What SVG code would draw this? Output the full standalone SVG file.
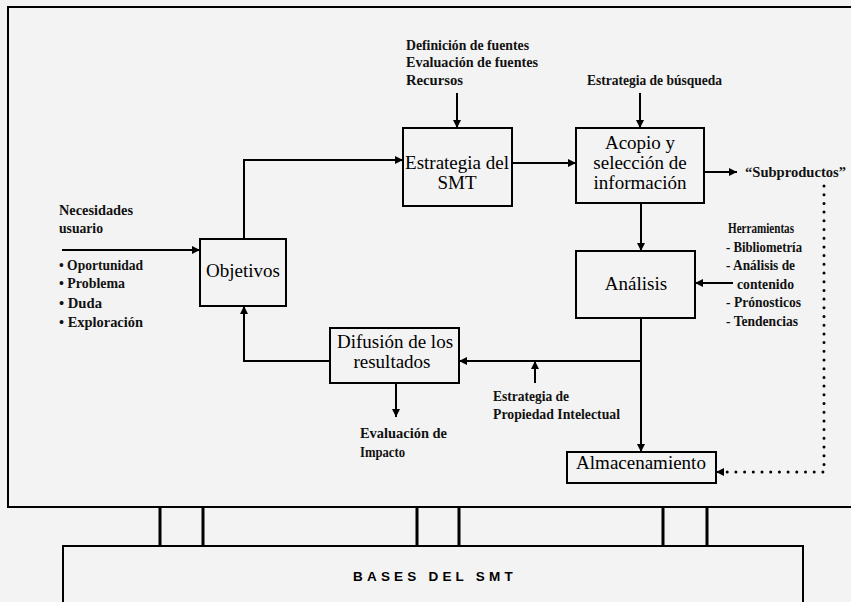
<svg xmlns="http://www.w3.org/2000/svg" width="851" height="602" viewBox="0 0 851 602">
<defs>
<marker id="ah" viewBox="0 0 10 10" refX="10" refY="5" markerWidth="9" markerHeight="8" markerUnits="userSpaceOnUse" orient="auto">
<path d="M0,0 L10,5 L0,10 z" fill="#000"/>
</marker>
</defs>
<style>
.box{fill:none;stroke:#000;stroke-width:2}
.node{font-family:"Liberation Serif",serif;font-size:19px;fill:#000;text-anchor:middle}
.lbl{font-family:"Liberation Serif",serif;font-weight:bold;font-size:15.5px;fill:#111}
.c{fill:none;stroke:#000;stroke-width:2}
.post{stroke:#000;stroke-width:3}
.frame{fill:none;stroke:#000;stroke-width:2}
</style>
<rect x="0" y="0" width="851" height="602" fill="#f3f3f3"/>
<g id="frame">
<path class="frame" d="M851,7 H8 V507 H851"/>
<path class="post" d="M160,507 V547 M203,507 V547 M417,507 V547 M459,507 V547 M663,507 V547 M707,507 V547"/>
<path class="frame" d="M63,604 V546 H803 V604"/>
<text x="353" y="581" font-family="'Liberation Sans',sans-serif" font-weight="bold" font-size="13.5" letter-spacing="4.2" fill="#000">BASES DEL SMT</text>
</g>
<g id="connectors">
<path class="c" d="M62,250 H200" marker-end="url(#ah)"/>
<path class="c" d="M244,239 V160 H403" marker-end="url(#ah)"/>
<path class="c" d="M457,93 V128" marker-end="url(#ah)"/>
<path class="c" d="M512,163 H576" marker-end="url(#ah)"/>
<path class="c" d="M640,93 V128" marker-end="url(#ah)"/>
<path class="c" d="M704,172 H737" marker-end="url(#ah)"/>
<path class="c" d="M641,203 V251" marker-end="url(#ah)"/>
<path class="c" d="M733,283 H695" marker-end="url(#ah)"/>
<path class="c" d="M641,318 V452" marker-end="url(#ah)"/>
<path class="c" d="M641,361 H459" marker-end="url(#ah)"/>
<path class="c" d="M535,383 V361" marker-end="url(#ah)"/>
<path class="c" d="M330,361 H244 V306" marker-end="url(#ah)"/>
<path class="c" d="M396,383 V417" marker-end="url(#ah)"/>
<path d="M824,186 V472 H724" fill="none" stroke="#000" stroke-width="3" stroke-linecap="round" stroke-dasharray="0 8.7"/>
<path class="c" d="M724,472 H716" marker-end="url(#ah)"/>
</g>
<g id="objetivos">
<rect class="box" x="200" y="239" width="86" height="67"/>
<text class="node" x="243" y="277">Objetivos</text>
</g>
<g id="estrategia">
<rect class="box" x="403" y="128" width="109" height="78"/>
<text class="node" x="457" y="169">Estrategia del</text>
<text class="node" x="457" y="189">SMT</text>
</g>
<g id="acopio">
<rect class="box" x="576" y="128" width="128" height="75"/>
<text class="node" x="640" y="149">Acopio y</text>
<text class="node" x="640" y="169">selección de</text>
<text class="node" x="640" y="189">información</text>
</g>
<g id="analisis">
<rect class="box" x="576" y="251" width="119" height="67"/>
<text class="node" x="636" y="290">Análisis</text>
</g>
<g id="difusion">
<rect class="box" x="330" y="328" width="129" height="55"/>
<text class="node" x="395" y="348">Difusión de los</text>
<text class="node" x="392" y="368">resultados</text>
</g>
<g id="almacenamiento">
<rect class="box" x="567" y="452" width="149" height="31"/>
<text class="node" x="641" y="469">Almacenamiento</text>
</g>
<g id="labels">
<text class="lbl" x="406" y="50" textLength="123" lengthAdjust="spacingAndGlyphs">Definición de fuentes</text>
<text class="lbl" x="406" y="67" textLength="132" lengthAdjust="spacingAndGlyphs">Evaluación de fuentes</text>
<text class="lbl" x="406" y="85" textLength="57" lengthAdjust="spacingAndGlyphs">Recursos</text>
<text class="lbl" x="587" y="85" textLength="135" lengthAdjust="spacingAndGlyphs">Estrategia de búsqueda</text>
<text class="lbl" x="745" y="177" textLength="101" lengthAdjust="spacingAndGlyphs">“Subproductos”</text>
<text class="lbl" x="728" y="233" textLength="66" lengthAdjust="spacingAndGlyphs">Herramientas</text>
<text class="lbl" x="726" y="252" textLength="76" lengthAdjust="spacingAndGlyphs">- Bibliometría</text>
<text class="lbl" x="726" y="270" textLength="69" lengthAdjust="spacingAndGlyphs">- Análisis de</text>
<text class="lbl" x="737" y="289" textLength="57" lengthAdjust="spacingAndGlyphs">contenido</text>
<text class="lbl" x="726" y="307" textLength="75" lengthAdjust="spacingAndGlyphs">- Prónosticos</text>
<text class="lbl" x="726" y="326" textLength="72" lengthAdjust="spacingAndGlyphs">- Tendencias</text>
<text class="lbl" x="59" y="215" textLength="74" lengthAdjust="spacingAndGlyphs">Necesidades</text>
<text class="lbl" x="59" y="233" textLength="44" lengthAdjust="spacingAndGlyphs">usuario</text>
<text class="lbl" x="59" y="270" textLength="84" lengthAdjust="spacingAndGlyphs">• Oportunidad</text>
<text class="lbl" x="59" y="288" textLength="66" lengthAdjust="spacingAndGlyphs">• Problema</text>
<text class="lbl" x="59" y="308" textLength="43" lengthAdjust="spacingAndGlyphs">• Duda</text>
<text class="lbl" x="59" y="327" textLength="84" lengthAdjust="spacingAndGlyphs">• Exploración</text>
<text class="lbl" x="493" y="401" textLength="76" lengthAdjust="spacingAndGlyphs">Estrategia de</text>
<text class="lbl" x="493" y="419" textLength="127" lengthAdjust="spacingAndGlyphs">Propiedad Intelectual</text>
<text class="lbl" x="360" y="438" textLength="87" lengthAdjust="spacingAndGlyphs">Evaluación de</text>
<text class="lbl" x="360" y="457" textLength="45" lengthAdjust="spacingAndGlyphs">Impacto</text>
</g>
</svg>
